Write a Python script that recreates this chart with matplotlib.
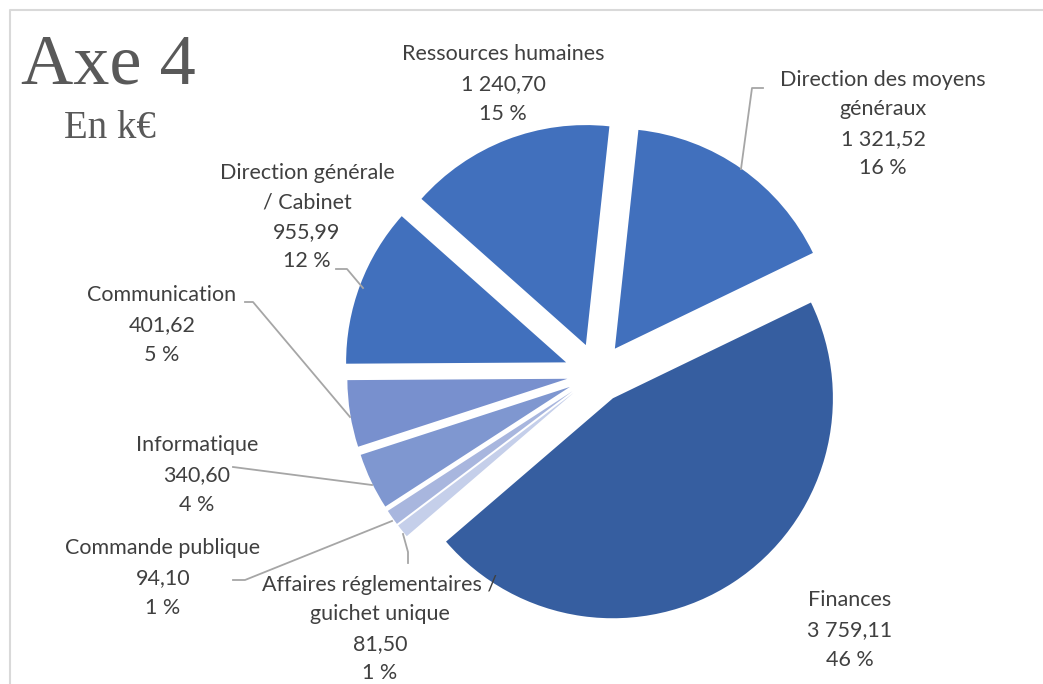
import numpy as np
import matplotlib.pyplot as plt

W, H = 1043, 684

# budget par direction (k€), dans l'ordre des parts (sens horaire)
directions = ["Finances",
              "Affaires réglementaires /\nguichet unique",
              "Commande publique",
              "Informatique",
              "Communication",
              "Direction générale\n/ Cabinet",
              "Ressources humaines",
              "Direction des moyens\ngénéraux"]
montants = [3759.11, 81.50, 94.10, 340.60, 401.62, 955.99, 1240.70, 1321.52]
couleurs = ["#365EA0", "#C5CFEA", "#A8B6DE", "#7F97D0",
            "#7890CE", "#4170BD", "#4170BD", "#4170BD"]

def fmt_fr(v):
    s = f"{v:,.2f}"
    return s.replace(",", " ").replace(".", ",")

total = sum(montants)
pcts = [round(100 * m / total) for m in montants]

fig = plt.figure(figsize=(W / 100, H / 100), dpi=100)
ax = fig.add_axes([0, 0, 1, 1])

cx, cy, R = 597, H - 374, 220
ax.pie(montants, startangle=25.8, counterclock=False, colors=couleurs,
       radius=R, center=(cx, cy),
       explode=[29, 30, 30, 30, 30, 33, 31, 31],
       wedgeprops=dict(linewidth=0))
ax.set_xlim(0, W)
ax.set_ylim(0, H)
ax.set_aspect("equal")
ax.axis("off")

# cadre du graphique
ax.plot([10, 10, W], [0, H - 10, H - 10], color="#D9D9D9", lw=1.5,
        solid_capstyle="butt")

ax.text(21, H - 66, "Axe 4", family="Liberation Serif", fontsize=52,
        color="#595959", ha="left", va="center")
ax.text(64, H - 129, "En k€", family="Liberation Serif", fontsize=28,
        color="#595959", ha="left", va="center")

# étiquettes : centre du bloc de texte (px)
pos_lbl = [(850, 630), (380, 629), (163, 578), (197, 475),
           (162, 325), (307, 217), (503, 84), (883, 124)]
for nom, m, p, (x, y) in zip(directions, montants, pcts, pos_lbl):
    ax.text(x, H - y, f"{nom}\n{fmt_fr(m)}\n{p} %", family="Lato",
            fontsize=15.5, color="#404040", ha="center", va="center",
            linespacing=1.6)

# traits de rappel
rappels = [
    [(741, 169), (752, 88), (763, 88)],
    [(363, 288), (347, 269), (336, 269)],
    [(350, 417), (253, 302), (245, 302)],
    [(372, 485), (233, 467)],
    [(392, 521), (245, 580), (233, 580)],
    [(403, 534), (408, 552), (408, 563)],
]
for pts in rappels:
    xs = [p[0] for p in pts]
    ys = [H - p[1] for p in pts]
    ax.plot(xs, ys, color="#A6A6A6", lw=1.3)

fig.savefig("out.png", dpi=100)
